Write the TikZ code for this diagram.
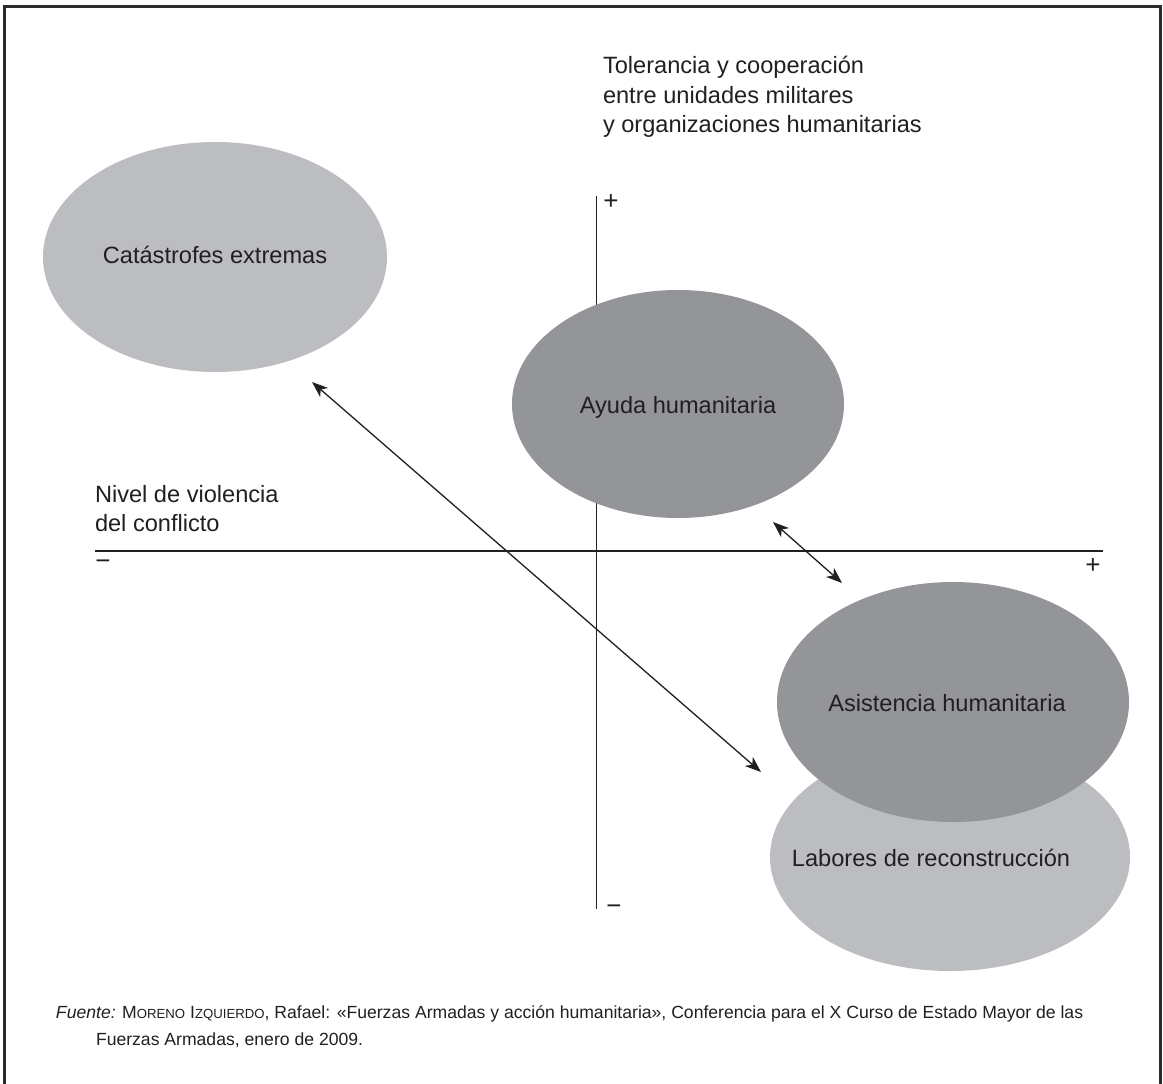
\documentclass[tikz,border=0pt]{standalone}
\usepackage{fontspec}
\usepackage{graphicx}
\setmainfont{Liberation Sans}
\usetikzlibrary{arrows.meta}
\definecolor{lightg}{HTML}{BCBDC0}
\definecolor{darkg}{HTML}{939598}
\definecolor{ink}{HTML}{231F20}
\begin{document}
\begin{tikzpicture}[x=1pt,y=-1pt,
  every node/.style={inner sep=0pt,outer sep=0pt,text=ink},
  bigtxt/.style={font=\fontsize{23.6}{29.7}\selectfont},
  signtxt/.style={font=\fontsize{26}{30}\selectfont},
  foot/.style={font=\fontsize{17.6}{20}\selectfont,anchor=base west},
  axis/.style={draw=ink,line width=1.4pt},
  dbl/.style={draw=ink,line width=1.3pt,{Stealth[length=16pt,width=12pt,inset=4.5pt]}-{Stealth[length=16pt,width=12pt,inset=4.5pt]}},
  blob/.style={ellipse,draw=none}]
\useasboundingbox (0,0) rectangle (1163,1084);
\fill[white] (0,0) rectangle (1163,1084);
% frame
\draw[line width=3pt,color=ink!95] (4.3,1090) -- (4.3,6) -- (1160.5,6) -- (1160.5,1090);
% axes
\coordinate (hl) at (95,551);
\coordinate (hr) at (1103,551);
\coordinate (vt) at (596.5,196);
\coordinate (vb) at (596.5,909);
\draw[axis] (hl) -- (hr);
\draw[axis] (vt) -- (vb);
% ellipses
\fill[lightg] (215,257) ellipse [x radius=172, y radius=115];
\fill[darkg] (678,404) ellipse [x radius=166, y radius=114];
\fill[lightg] (950,857) ellipse [x radius=180, y radius=114];
\fill[darkg] (953,702) ellipse [x radius=176, y radius=120];
% ellipse labels
\node[bigtxt,anchor=base] (cat) at (215,263) {Catástrofes extremas};
\node[bigtxt,anchor=base] (ayu) at (678,413) {Ayuda humanitaria};
\node[bigtxt,anchor=base] (asi) at (947,711) {Asistencia humanitaria};
\node[bigtxt,anchor=base] (lab) at (931,866) {Labores de reconstrucción};
% axis labels
\node[bigtxt,anchor=base west] (tol1) at (603,73) {Tolerancia y cooperación};
\node[bigtxt,anchor=base west] (tol2) at (603,103) {entre unidades militares};
\node[bigtxt,anchor=base west] (tol3) at (603,132) {y organizaciones humanitarias};
\node[bigtxt,anchor=base west] (niv1) at (95,502) {Nivel de violencia};
\node[bigtxt,anchor=base west] (niv2) at (95,531) {del conflicto};
% signs
\node[signtxt] (pt) at (611,202) {+};
\node[signtxt] (mb) at (614,910) {−};
\node[signtxt] (ml) at (103,565) {−};
\node[signtxt] (pr) at (1093,566) {+};
% arrows
\coordinate (a1) at (312,382);
\coordinate (a2) at (761,772);
\coordinate (b1) at (773,522);
\coordinate (b2) at (842,583);
\draw[dbl] (a1) -- (a2);
\draw[dbl] (b1) -- (b2);
% footer
\node[foot] (f1) at (56,1018) {\textit{Fuente:} M{\fontsize{13.2}{14}\selectfont ORENO} I{\fontsize{13.2}{14}\selectfont ZQUIERDO}, Rafael: «Fuerzas Armadas y acción humanitaria», Conferencia para el X Curso de Estado Mayor de las};
\node[foot] (f2) at (96,1045) {Fuerzas Armadas, enero de 2009.};
\end{tikzpicture}
\end{document}
